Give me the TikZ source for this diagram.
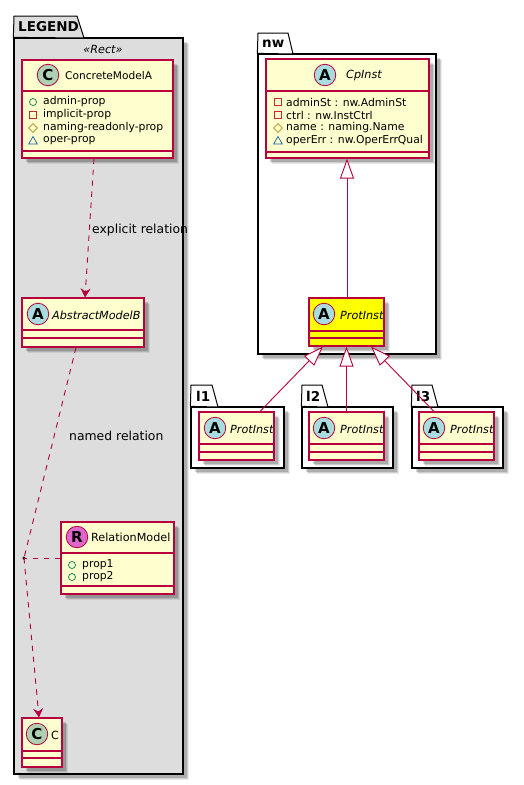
\documentclass[tikz,border=0pt]{standalone}
\usepackage{fontspec}
\setmainfont{DejaVu Sans}
\usetikzlibrary{arrows.meta,fit,shadows,shapes.geometric}
\definecolor{umlborder}{HTML}{B8003C}
\definecolor{umlfill}{HTML}{FEFECE}
\definecolor{protfill}{HTML}{FFFF00}
\definecolor{spotc}{HTML}{ADD1B2}
\definecolor{spota}{HTML}{A9DCDF}
\definecolor{spotr}{HTML}{DE66CC}
\definecolor{legendbg}{HTML}{DDDDDD}
\definecolor{icongreen}{HTML}{038048}
\definecolor{iconred}{HTML}{C82930}
\definecolor{icongold}{HTML}{B38D22}
\definecolor{iconblue}{HTML}{1963A0}
\tikzset{
  softshadow/.style={drop shadow={shadow xshift=5.5pt,shadow yshift=-5.5pt,fill=black,opacity=0.08},
    drop shadow={shadow xshift=4.5pt,shadow yshift=-4.5pt,fill=black,opacity=0.12},
    drop shadow={shadow xshift=3.5pt,shadow yshift=-3.5pt,fill=black,opacity=0.16}},
  pkgbox/.style={draw=black,line width=1.25pt,fill=white,inner sep=0pt,softshadow},
  pkgtab/.style={draw=black,line width=1pt,fill=white},
  pkgname/.style={anchor=west,inner sep=0pt,font=\fontsize{13.5}{15}\selectfont\bfseries},
  umlclass/.style={draw=umlborder,line width=1.1pt,fill=umlfill,inner sep=0pt,softshadow},
  sepline/.style={draw=umlborder,line width=1.1pt},
  spot/.style={circle,draw=umlborder,line width=0.8pt,minimum size=21.5pt,inner sep=0pt,font=\fontsize{15}{15}\selectfont\bfseries},
  clsname/.style={anchor=west,inner sep=0pt,font=\fontsize{11.2}{13}\selectfont},
  absname/.style={anchor=west,inner sep=0pt,font=\fontsize{11.2}{13}\selectfont\itshape},
  attr/.style={anchor=west,inner sep=0pt,font=\fontsize{10.8}{12}\selectfont},
  edgetext/.style={anchor=west,inner sep=0pt,font=\fontsize{12.4}{14}\selectfont},
  icpub/.style={circle,draw=icongreen,line width=0.7pt,minimum size=7pt,inner sep=0pt},
  icpriv/.style={rectangle,draw=iconred,line width=0.8pt,minimum size=6.5pt,inner sep=0pt},
  icprot/.style={diamond,draw=icongold,line width=0.7pt,minimum size=9pt,inner sep=0pt},
  icpack/.style={regular polygon,regular polygon sides=3,draw=iconblue,line width=0.7pt,minimum size=10pt,inner sep=0pt},
  deprel/.style={draw=umlborder,line width=0.9pt,dash pattern=on 5.5pt off 5.5pt},
  extrel/.style={draw=umlborder,line width=0.9pt,{Triangle[open,fill=white,length=20pt,width=14pt]}-},
}

\begin{document}
\begin{tikzpicture}[x=1pt,y=-1pt]
\useasboundingbox (0,0) rectangle (524,785);
% packages
\node[pkgbox,fill=legendbg,fit={(14,38) (183,774)}] (pk_legend) {};
\draw[pkgtab,fill=legendbg] (pk_legend.north west) -- (14,16) -- (77,16) -- (84,38) -- cycle;
\node[pkgname] (pk_legend_t) at (18,27) {LEGEND};
\node[anchor=center,inner sep=0pt,font=\fontsize{11.2}{13}\selectfont\itshape] (pk_legend_s) at (103,49) {«Rect»};
\node[pkgbox,fit={(258,54) (436,354)}] (pk_nw) {};
\draw[pkgtab] (pk_nw.north west) -- (258,33) -- (288,33) -- (293,54) -- cycle;
\node[pkgname] (pk_nw_t) at (262,43.5) {nw};
\node[pkgbox,fit={(191,407) (284,468)}] (pk_l1) {};
\draw[pkgtab] (pk_l1.north west) -- (191,385) -- (212,385) -- (218,407) -- cycle;
\node[pkgname] (pk_l1_t) at (196,396) {l1};
\node[pkgbox,fit={(302,407) (393,468)}] (pk_l2) {};
\draw[pkgtab] (pk_l2.north west) -- (302,385) -- (322,385) -- (328,407) -- cycle;
\node[pkgname] (pk_l2_t) at (306,396) {l2};
\node[pkgbox,fit={(412,407) (503,468)}] (pk_l3) {};
\draw[pkgtab] (pk_l3.north west) -- (412,385) -- (432,385) -- (438,407) -- cycle;
\node[pkgname] (pk_l3_t) at (416,396) {l3};
% legend classes
\node[umlclass,fit={(22,60) (173,158)}] (leg_a) {};
\draw[sepline] (leg_a.west |- 0,91) -- (leg_a.east |- 0,91);
\draw[sepline] (leg_a.west |- 0,151) -- (leg_a.east |- 0,151);
\node[spot,fill=spotc] (leg_a_s) at (48,75) {C};
\node[clsname,font=\fontsize{10.6}{13}\selectfont] (leg_a_n) at (65,75.5) {ConcreteModelA};
\node[icpub] (leg_a_i1) at (33,102) {};
\node[attr] (leg_a_t1) at (43,102) {admin-prop};
\node[icpriv] (leg_a_i2) at (33,115) {};
\node[attr] (leg_a_t2) at (43,115) {implicit-prop};
\node[icprot] (leg_a_i3) at (33,128) {};
\node[attr] (leg_a_t3) at (43,128) {naming-readonly-prop};
\node[icpack] (leg_a_i4) at (33,141.5) {};
\node[attr] (leg_a_t4) at (43,141) {oper-prop};
\node[umlclass,fit={(22,298) (144,347)}] (leg_b) {};
\draw[sepline] (leg_b.west |- 0,330) -- (leg_b.east |- 0,330);
\draw[sepline] (leg_b.west |- 0,338) -- (leg_b.east |- 0,338);
\node[spot,fill=spota] (leg_b_s) at (38,314) {A};
\node[absname] (leg_b_n) at (52,315) {AbstractModelB};
\node[umlclass,fit={(61,522) (174,594)}] (leg_r) {};
\draw[sepline] (leg_r.west |- 0,553) -- (leg_r.east |- 0,553);
\draw[sepline] (leg_r.west |- 0,586) -- (leg_r.east |- 0,586);
\node[spot,fill=spotr] (leg_r_s) at (77,537) {R};
\node[clsname] (leg_r_n) at (91,537.5) {RelationModel};
\node[icpub] (leg_r_i1) at (72,565) {};
\node[attr] (leg_r_t1) at (82,565) {prop1};
\node[icpub] (leg_r_i2) at (72,577) {};
\node[attr] (leg_r_t2) at (82,577) {prop2};
\node[umlclass,fit={(22,718) (62,767)}] (leg_c) {};
\draw[sepline] (leg_c.west |- 0,751) -- (leg_c.east |- 0,751);
\draw[sepline] (leg_c.west |- 0,758) -- (leg_c.east |- 0,758);
\node[spot,fill=spotc] (leg_c_s) at (37,734) {C};
\node[clsname] (leg_c_n) at (51,735) {C};
% nw classes
\node[umlclass,fit={(266,59) (429,158)}] (nw_cp) {};
\draw[sepline] (nw_cp.west |- 0,91) -- (nw_cp.east |- 0,91);
\draw[sepline] (nw_cp.west |- 0,152) -- (nw_cp.east |- 0,152);
\node[spot,fill=spota] (nw_cp_s) at (325,75) {A};
\node[absname] (nw_cp_n) at (346,76) {CpInst};
\node[icpriv] (nw_cp_i1) at (278,102) {};
\node[attr] (nw_cp_t1) at (286,102) {adminSt : nw.AdminSt};
\node[icpriv] (nw_cp_i2) at (278,115) {};
\node[attr] (nw_cp_t2) at (286,115) {ctrl : nw.InstCtrl};
\node[icprot] (nw_cp_i3) at (278,128) {};
\node[attr] (nw_cp_t3) at (286,128) {name : naming.Name};
\node[icpack] (nw_cp_i4) at (278,141.5) {};
\node[attr] (nw_cp_t4) at (286,141) {operErr : nw.OperErrQual};
\node[umlclass,fill=protfill,fit={(309,298) (384,346)}] (nw_prot) {};
\draw[sepline] (nw_prot.west |- 0,331) -- (nw_prot.east |- 0,331);
\draw[sepline] (nw_prot.west |- 0,338) -- (nw_prot.east |- 0,338);
\node[spot,fill=spota] (nw_prot_s) at (324,314) {A};
\node[absname] (nw_prot_n) at (340,315) {ProtInst};
% l1 l2 l3 classes
\node[umlclass,fit={(199,412) (274,460)}] (l1_prot) {};
\draw[sepline] (l1_prot.west |- 0,444) -- (l1_prot.east |- 0,444);
\draw[sepline] (l1_prot.west |- 0,452) -- (l1_prot.east |- 0,452);
\node[spot,fill=spota] (l1_prot_s) at (215,428) {A};
\node[absname] (l1_prot_n) at (230,429) {ProtInst};
\node[umlclass,fit={(309,412) (384,460)}] (l2_prot) {};
\draw[sepline] (l2_prot.west |- 0,444) -- (l2_prot.east |- 0,444);
\draw[sepline] (l2_prot.west |- 0,452) -- (l2_prot.east |- 0,452);
\node[spot,fill=spota] (l2_prot_s) at (324,428) {A};
\node[absname] (l2_prot_n) at (340,429) {ProtInst};
\node[umlclass,fit={(419,412) (494,460)}] (l3_prot) {};
\draw[sepline] (l3_prot.west |- 0,444) -- (l3_prot.east |- 0,444);
\draw[sepline] (l3_prot.west |- 0,452) -- (l3_prot.east |- 0,452);
\node[spot,fill=spota] (l3_prot_s) at (434,428) {A};
\node[absname] (l3_prot_n) at (450,429) {ProtInst};
% relations
\draw[deprel,-{Stealth[length=9pt,width=10pt,inset=3pt,sep=0pt]}] ([xshift=-3.5pt]leg_a.south) -- ([xshift=2pt]leg_b.north);
\node[edgetext] (leg_ab_t) at (92,230) {explicit relation};
\node[circle,fill=black,minimum size=3.5pt,inner sep=0pt] (leg_dot) at (24,558) {};
\draw[deprel] ([xshift=-7pt]leg_b.south) -- (leg_dot.center);
\node[edgetext] (leg_bc_t) at (69,436) {named relation};
\draw[deprel] (leg_r.west |- leg_dot) -- (leg_dot.center);
\draw[deprel,-{Stealth[length=9pt,width=10pt,inset=3pt]}] (leg_dot.center) -- ([xshift=-3pt]leg_c.north);
\draw[extrel] (nw_cp.south -| 347,0) -- (nw_prot.north -| 347,0);
\draw[extrel] ([xshift=-23.5pt]nw_prot.south) -- ([xshift=23.5pt]l1_prot.north);
\draw[extrel] (nw_prot.south) -- (l2_prot.north);
\draw[extrel] ([xshift=24.5pt]nw_prot.south) -- ([xshift=-22.5pt]l3_prot.north);
\end{tikzpicture}
\end{document}
